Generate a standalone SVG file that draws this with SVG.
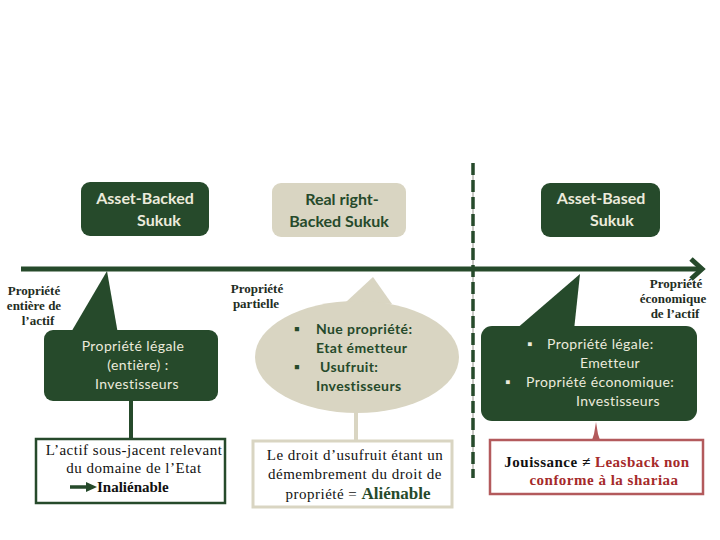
<svg xmlns="http://www.w3.org/2000/svg" width="720" height="540" viewBox="0 0 720 540">
<style>
.dg{fill:#264a2b}
.bg{fill:#d9d5c2}
.hd{font-family:Lato,"Liberation Sans",sans-serif;font-weight:bold;font-size:16px;text-anchor:middle}
.lt{fill:#ecebdc}
.dk{fill:#264a2b}
.ct{font-family:Lato,"Liberation Sans",sans-serif;font-size:14px;letter-spacing:0.4px;fill:#ecebdc}
.ct2{font-family:Lato,"Liberation Sans",sans-serif;font-size:14px;letter-spacing:0.4px;font-weight:bold;fill:#264a2b}
.lb{font-family:"Liberation Serif",serif;font-weight:bold;font-size:13px;fill:#1f2e1f;text-anchor:middle}
.sr{font-family:"Liberation Serif",serif;font-size:15px;letter-spacing:0.5px;fill:#111}
.rd{font-family:"Liberation Serif",serif;font-weight:bold;font-size:15px;letter-spacing:0.5px;fill:#a52a2a}
.m{text-anchor:middle}
</style>
<rect width="720" height="540" fill="#ffffff"/>
<g id="connectors">
  <line x1="473" y1="163" x2="473" y2="478" stroke="#c9c9c4" stroke-width="2"/>
  <line x1="473" y1="163" x2="473" y2="478" stroke="#264a2b" stroke-width="3.5" stroke-dasharray="12 5"/>
  <line x1="21" y1="269" x2="700" y2="269" stroke="#264a2b" stroke-width="5"/>
  <polyline points="691,259 702,269 691,279" fill="none" stroke="#264a2b" stroke-width="5" stroke-linejoin="miter"/>
  <line x1="131" y1="400" x2="131" y2="439" stroke="#264a2b" stroke-width="4"/>
  <line x1="356" y1="412" x2="356" y2="441" stroke="#d9d5c2" stroke-width="4"/>
  <polygon points="596,422 598,434 600,440 592,440 594,434" fill="#b35a5c"/>
</g>
<g id="asset-backed">
  <rect x="81" y="182" width="128" height="54" rx="9" class="dg"/>
  <text class="hd lt" x="145" y="204">Asset-Backed</text>
  <text class="hd lt" x="159" y="226">Sukuk</text>
</g>
<g id="real-right">
  <rect x="272" y="183" width="134" height="54" rx="9" class="bg"/>
  <text class="hd dk" x="342" y="205">Real right-</text>
  <text class="hd dk" x="339" y="227">Backed Sukuk</text>
</g>
<g id="asset-based">
  <rect x="541" y="183" width="119" height="54" rx="9" class="dg"/>
  <text class="hd lt" x="601" y="204">Asset-Based</text>
  <text class="hd lt" x="612" y="226">Sukuk</text>
</g>
<g id="label-entiere">
  <text class="lb" x="34" y="295">Propriété</text>
  <text class="lb" x="34" y="310">entière de</text>
  <text class="lb" x="38" y="325">l’actif</text>
</g>
<g id="label-partielle">
  <text class="lb" x="257" y="293">Propriété</text>
  <text class="lb" x="256" y="308">partielle</text>
</g>
<g id="label-economique">
  <text class="lb" x="676" y="288">Propriété</text>
  <text class="lb" x="673" y="303">économique</text>
  <text class="lb" x="675" y="318">de l’actif</text>
</g>
<g id="callout-legale">
  <polygon points="107,271 70,334 118,334" class="dg"/>
  <rect x="44" y="330" width="174" height="71" rx="9" class="dg"/>
  <text class="ct m" x="133" y="351">Propriété légale</text>
  <text class="ct m" x="138" y="370">(entière) :</text>
  <text class="ct m" x="137" y="389">Investisseurs</text>
</g>
<g id="box-inalienable">
  <rect x="36" y="439" width="189" height="64" fill="#ffffff" stroke="#264a2b" stroke-width="2.5"/>
  <text class="sr m" x="134" y="455">L’actif sous-jacent relevant</text>
  <text class="sr m" x="134" y="473">du domaine de l’Etat</text>
  <line x1="70" y1="487" x2="88" y2="487" stroke="#264a2b" stroke-width="3.5"/>
  <polygon points="86,482 97,487 86,492" fill="#264a2b"/>
  <text class="sr" x="97" y="492" font-weight="bold" style="letter-spacing:0">Inaliénable</text>
</g>
<g id="callout-usufruit">
  <polygon points="373,277 346,302 392,304" class="bg"/>
  <ellipse cx="357" cy="357" rx="102" ry="56" class="bg"/>
  <text class="ct2" x="294" y="334">▪</text>
  <text class="ct2" x="316" y="334">Nue propriété:</text>
  <text class="ct2" x="316" y="353">Etat émetteur</text>
  <text class="ct2" x="294" y="372">▪</text>
  <text class="ct2" x="320" y="372">Usufruit:</text>
  <text class="ct2" x="316" y="391">Investisseurs</text>
</g>
<g id="box-alienable">
  <rect x="253" y="441" width="199" height="66" fill="#ffffff" stroke="#d9d5c2" stroke-width="3"/>
  <text class="sr m" x="355" y="460">Le droit d’usufruit étant un</text>
  <text class="sr m" x="355" y="479">démembrement du droit de</text>
  <text class="sr m" x="358" y="499">propriété = <tspan font-weight="bold" font-size="17" fill="#264a2b" style="letter-spacing:0">Aliénable</tspan></text>
</g>
<g id="callout-economique">
  <polygon points="580,274 515,330 574,330" class="dg"/>
  <rect x="481" y="326" width="216" height="95" rx="11" class="dg"/>
  <text class="ct" x="527" y="349">▪</text>
  <text class="ct" x="547" y="349">Propriété légale:</text>
  <text class="ct m" x="610" y="368">Emetteur</text>
  <text class="ct" x="505" y="387">▪</text>
  <text class="ct" x="526" y="387">Propriété économique:</text>
  <text class="ct" x="576" y="406">Investisseurs</text>
</g>
<g id="box-jouissance">
  <rect x="490" y="440" width="213" height="54" fill="#ffffff" stroke="#b35a5c" stroke-width="2.5"/>
  <text class="rd m" x="597" y="467"><tspan fill="#111">Jouissance ≠ </tspan>Leasback non</text>
  <text class="rd m" x="604" y="485">conforme à la shariaa</text>
</g>
</svg>
